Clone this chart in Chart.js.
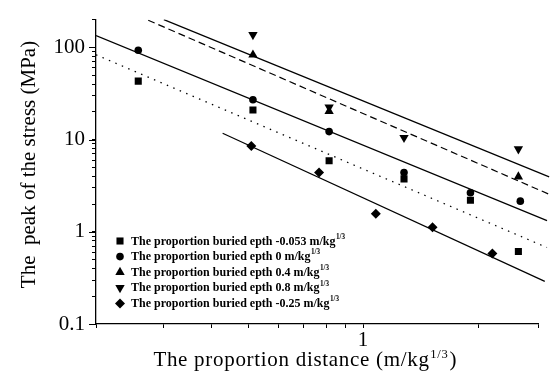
<!DOCTYPE html>
<html>
<head>
<meta charset="utf-8">
<script src="https://cdn.jsdelivr.net/npm/chart.js@4.4.0/dist/chart.umd.min.js"></script>
<style>
  html, body { margin: 0; padding: 0; background: #fff; }
</style>
</head>
<body>
<canvas id="stressChart" width="557" height="379"></canvas>
<script>
// proportion distance (m/kg^1/3) and peak stress (MPa)
const distSquare = [0.258, 0.515, 0.815, 1.28, 1.91, 2.55];
const peakSquare = [43, 20.9, 5.9, 3.75, 2.2, 0.61];

const distCircle = [0.258, 0.515, 0.815, 1.28, 1.91, 2.58];
const peakCircle = [93, 27, 12.2, 4.4, 2.65, 2.15];

const distUp = [0.515, 0.815, 2.55];
const peakUp = [83, 20.3, 3.95];

const distDown = [0.515, 0.815, 1.28, 2.55];
const peakDown = [137, 22.4, 10.5, 7.9];

const distDiamond = [0.51, 0.767, 1.08, 1.52, 2.18];
const peakDiamond = [8.5, 4.4, 1.57, 1.12, 0.58];

// fitted lines, start and end points
const fitSquareX = [0.2, 3.03];
const fitSquareY = [83, 0.675];
const fitCircleX = [0.2, 3.03];
const fitCircleY = [134, 1.32];
const fitUpX = [0.274, 3.07];
const fitUpY = [197, 2.55];
const fitDownX = [0.301, 3.07];
const fitDownY = [200, 3.94];
const fitDiamondX = [0.429, 2.99];
const fitDiamondY = [11.7, 0.29];

const depths = ["-0.053", "0", "0.4", "0.8", "-0.25"];
const yMajor = [0.1, 1, 10, 100];
const xMajor = [1];

function pts(xs, ys) {
  return xs.map((x, i) => ({ x: x, y: ys[i] }));
}

const serif = "'Liberation Serif', 'Times New Roman', serif";

function markerSet(i, xs, ys, style, radius, rotation) {
  return {
    label: "The proportion buried epth " + depths[i] + " m/kg",
    data: pts(xs, ys),
    pointStyle: style,
    pointRadius: radius,
    pointHoverRadius: radius,
    pointRotation: rotation || 0,
    backgroundColor: "#000",
    borderColor: "#000",
    borderWidth: 0,
    showLine: false,
    isMarker: true
  };
}

function fitSet(xs, ys, dash) {
  return {
    data: pts(xs, ys),
    showLine: true,
    pointRadius: 0,
    borderColor: "#000",
    borderWidth: 1.2,
    borderDash: dash,
    fill: false,
    clip: { left: 0, top: 0, right: 14, bottom: 0 }
  };
}

function drawWithSup(ctx, x, y, base, sup, size, weight) {
  ctx.font = weight + " " + size + "px " + serif;
  ctx.fillText(base, x, y);
  const w = ctx.measureText(base).width;
  ctx.font = weight + " " + (size * 0.6) + "px " + serif;
  ctx.fillText(sup, x + w + 0.5, y - size * 0.38);
  return w + 0.5 + ctx.measureText(sup).width;
}

const textPlugin = {
  id: "textPlugin",
  afterDraw(chart) {
    const ctx = chart.ctx;
    const ys = chart.scales.y;
    ctx.save();
    ctx.fillStyle = "#000";
    ctx.strokeStyle = "#000";

    // longer marks at the decades
    ctx.lineWidth = 1;
    ctx.beginPath();
    yMajor.forEach(v => {
      const py = Math.round(ys.getPixelForValue(v)) + 0.5;
      ctx.moveTo(ys.right - 7, py);
      ctx.lineTo(ys.right, py);
    });
    ctx.stroke();

    ctx.textBaseline = "alphabetic";
    ctx.textAlign = "left";

    // y title
    ctx.save();
    ctx.translate(29, 164.5);
    ctx.rotate(-Math.PI / 2);
    ctx.font = "21px " + serif;
    ctx.textAlign = "center";
    ctx.textBaseline = "middle";
    ctx.fillText("The  peak of the stress (MPa)", 0, 0);
    ctx.restore();

    // x title with superscript
    ctx.letterSpacing = "0.7px";
    ctx.font = "21px " + serif;
    const base = "The proportion distance (m/kg";
    const bw = ctx.measureText(base).width;
    ctx.font = "12.6px " + serif;
    const sw = ctx.measureText("1/3").width;
    ctx.font = "21px " + serif;
    const cw = ctx.measureText(")").width;
    let x0 = 305 - (bw + sw + cw + 1) / 2;
    const used = drawWithSup(ctx, x0, 366, base, "1/3", 21, "");
    ctx.font = "21px " + serif;
    ctx.fillText(")", x0 + used + 1, 366);
    ctx.letterSpacing = "0px";

    // legend inside the plot
    const markers = chart.data.datasets.filter(d => d.isMarker);
    markers.forEach((d, i) => {
      const y = 241 + i * 15.6;
      Chart.helpers.drawPoint(ctx, {
        pointStyle: d.pointStyle,
        radius: d.pointRadius,
        rotation: d.pointRotation,
        borderWidth: 0
      }, 120, y);
      ctx.textBaseline = "middle";
      drawWithSup(ctx, 131, y + 0.5, d.label, "1/3", 12, "bold");
    });
    ctx.restore();
  }
};

function logTicks(lo, hi) {
  const out = [];
  for (let e = -1; e <= 2; e++) {
    for (let m = 1; m <= 9; m++) {
      const v = +(m * Math.pow(10, e)).toPrecision(3);
      if (v >= lo - 1e-9 && v <= hi + 1e-9) out.push(v);
    }
  }
  return out;
}

new Chart(document.getElementById("stressChart"), {
  type: "scatter",
  data: {
    datasets: [
      markerSet(0, distSquare, peakSquare, "rect", 5),
      markerSet(1, distCircle, peakCircle, "circle", 3.8),
      markerSet(2, distUp, peakUp, "triangle", 5.4),
      markerSet(3, distDown, peakDown, "triangle", 5.4, 180),
      markerSet(4, distDiamond, peakDiamond, "rectRot", 5),
      fitSet(fitSquareX, fitSquareY, [1.5, 5.5]),
      fitSet(fitCircleX, fitCircleY, []),
      fitSet(fitUpX, fitUpY, [7, 4]),
      fitSet(fitDownX, fitDownY, []),
      fitSet(fitDiamondX, fitDiamondY, [])
    ]
  },
  options: {
    responsive: false,
    animation: false,
    devicePixelRatio: 1,
    layout: { padding: { left: 0, top: 9, right: 19, bottom: 0 } },
    plugins: {
      legend: { display: false },
      tooltip: { enabled: false }
    },
    scales: {
      x: {
        type: "logarithmic",
        min: 0.2,
        max: 2.87,
        afterBuildTicks: s => {
          s.ticks = logTicks(0.2, 2).concat([2.87]).map(v => ({ value: v }));
        },
        afterFit: s => { s.height = 55; },
        ticks: {
          autoSkip: false,
          maxRotation: 0,
          padding: 0,
          color: "#000",
          font: { family: serif, size: 21 },
          callback: v => (xMajor.includes(v) ? String(v) : "")
        },
        grid: { drawOnChartArea: false, drawTicks: true, tickLength: 4, color: "#000", lineWidth: 1 },
        border: { display: true, color: "#000", width: 1.3 }
      },
      y: {
        type: "logarithmic",
        min: 0.1,
        max: 200,
        afterBuildTicks: s => {
          s.ticks = logTicks(0.1, 200).map(v => ({ value: v }));
        },
        afterFit: s => { s.width = 96; },
        ticks: {
          autoSkip: false,
          padding: 7,
          color: "#000",
          font: { family: serif, size: 21 },
          callback: v => (yMajor.includes(v) ? String(v) : "")
        },
        grid: { drawOnChartArea: false, drawTicks: true, tickLength: 4, color: "#000", lineWidth: 1 },
        border: { display: true, color: "#000", width: 1.3 }
      }
    }
  },
  plugins: [textPlugin]
});
</script>
</body>
</html>
